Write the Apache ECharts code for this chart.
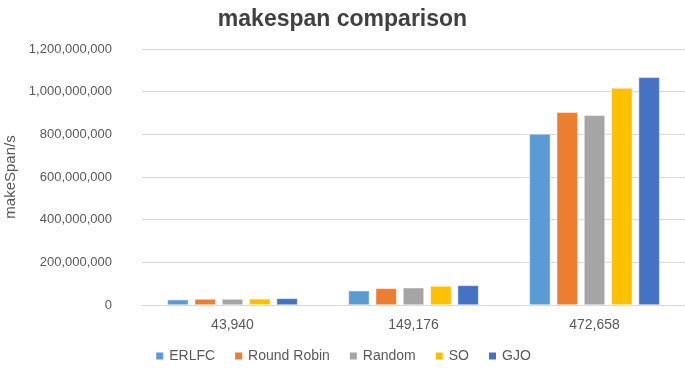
<!DOCTYPE html>
<html>
<head>
<meta charset="utf-8">
<script src="https://cdn.jsdelivr.net/npm/echarts@6/dist/echarts.min.js"></script>
<style>
  html, body { margin: 0; padding: 0; background: #fff; }
  #chart { width: 685px; height: 372px; }
</style>
</head>
<body>
<div id="chart"></div>
<script>
// task counts on the x axis
const categories = ['43,940', '149,176', '472,658'];
const seriesNames = ['ERLFC', 'Round Robin', 'Random', 'SO', 'GJO'];
const erlfc = [25000000, 67000000, 802000000];
const roundRobin = [28000000, 78000000, 903000000];
const random = [28000000, 81000000, 889000000];
const so = [29000000, 89000000, 1017000000];
const gjo = [31000000, 92000000, 1067000000];
const colors = ['#5B9BD5', '#ED7D31', '#A5A5A5', '#FFC000', '#4472C4'];

const values = [erlfc, roundRobin, random, so, gjo];
const font = 'Liberation Sans';

let series = [];
for (let i = 0; i < seriesNames.length; i++) {
  series.push({
    name: seriesNames[i],
    type: 'bar',
    barWidth: 21,
    barGap: '30%',
    itemStyle: { color: colors[i], borderColor: '#fff', borderWidth: 0.5 },
    data: values[i]
  });
}

let option = {
  backgroundColor: '#fff',
  animation: false,
  color: colors,
  title: {
    text: 'makespan comparison',
    left: 'center',
    top: 3,
    textStyle: { fontFamily: font, fontSize: 23, fontWeight: 'bold', color: '#404040' }
  },
  legend: {
    bottom: 4,
    left: 'center',
    itemWidth: 9,
    itemHeight: 9,
    itemGap: 18,
    icon: 'rect',
    textStyle: { fontFamily: font, fontSize: 14, color: '#595959' },
    data: seriesNames
  },
  grid: { left: 142, right: 0, top: 49, bottom: 67, outerBoundsMode: 'none' },
  xAxis: {
    type: 'category',
    data: categories,
    axisLine: { lineStyle: { color: '#d9d9d9', width: 1 } },
    axisTick: { show: false },
    axisLabel: { fontFamily: font, fontSize: 14, color: '#595959', margin: 13 }
  },
  yAxis: {
    type: 'value',
    min: 0,
    max: 1200000000,
    interval: 200000000,
    name: 'makeSpan/s',
    nameLocation: 'middle',
    nameGap: 122,
    nameTextStyle: { fontFamily: font, fontSize: 15, color: '#595959' },
    axisLine: { show: false },
    axisTick: { show: false },
    splitLine: { lineStyle: { color: '#d9d9d9' } },
    axisLabel: {
      fontFamily: font, fontSize: 13, color: '#595959', margin: 30,
      formatter: function (v) { return v.toLocaleString('en-US'); }
    }
  },
  series: series
};

let myChart = echarts.init(document.getElementById('chart'));
myChart.setOption(option);
</script>
</body>
</html>
